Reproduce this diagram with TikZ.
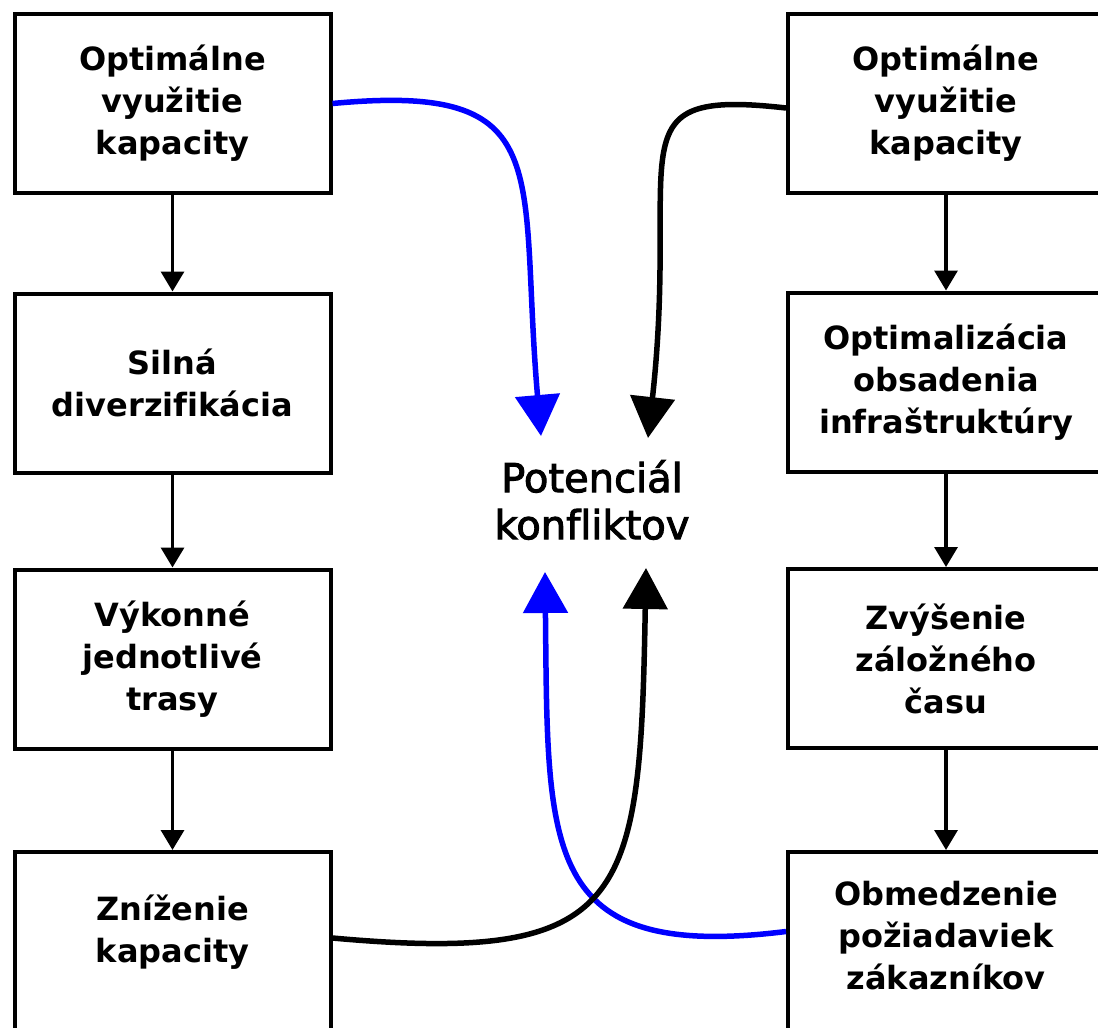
\documentclass[tikz,border=0pt]{standalone}
\usepackage{fontspec}
\setmainfont{DejaVu Sans}[Ligatures=NoCommon]
\newfontfamily\centrefont{DejaVu Sans}[Ligatures=NoCommon, FakeBold=2.5]
\usetikzlibrary{arrows.meta}
\begin{document}
\begin{tikzpicture}[x=1pt,y=-1pt,
  boxtext/.style={align=center, inner sep=0pt, font=\fontsize{32}{42}\selectfont\bfseries},
  box/.style={boxtext, draw=black, line width=4pt, fill=white,
    minimum width=316pt, minimum height=179pt},
  flow/.style={line width=3.3pt, -{Triangle[length=20pt,width=23pt]}},
  link/.style={line width=5.5pt, -{Triangle[length=41pt,width=44pt]}},
]
\useasboundingbox (0,0) rectangle (1098,1028);
\fill[white] (0,0) rectangle (1098,1028);
\clip (0,0) rectangle (1098,1028);

% left column
\node[box] (l1) at (172.5,103.5) {Optimálne\\využitie\\kapacity};
\node[box] (l2) at (172.5,383) {Silná\\diverzifikácia};
\node[box] (l3) at (172.5,659) {Výkonné\\jednotlivé\\trasy};
\node[box, label={[name=l4t, boxtext, yshift=9pt]center:Zníženie\\kapacity}] (l4) at (172.5,941.5) {};

% right column
\node[box] (r1) at (946,103.5) {Optimálne\\využitie\\kapacity};
\node[box] (r2) at (946,382) {Optimalizácia\\obsadenia\\infraštruktúry};
\node[box] (r3) at (946,658.5) {Zvýšenie\\záložného\\času};
\node[box, label={[name=r4t, boxtext, yshift=6pt]center:Obmedzenie\\požiadaviek\\zákazníkov}] (r4) at (946,941.5) {};

% centre label
\node[align=center, inner sep=0pt, font=\fontsize{40}{47}\selectfont\centrefont] (pk) at (592,500) {Potenciál\\konfliktov};

% vertical chains
\draw[flow] (l1) -- (l2);
\draw[flow] (l2) -- (l3);
\draw[flow] (l3) -- (l4);
\draw[flow] (r1) -- (r2);
\draw[flow] (r2) -- (r3);
\draw[flow] (r3) -- (r4);

% arrow tips around the centre label
\coordinate (tA) at (541,436);
\coordinate (tB) at (648,438);
\coordinate (tC) at (545,572);
\coordinate (tD) at (646,568);

% curved links into the centre
\draw[link, blue] (l1.east) .. controls (560,82) and (518,170) .. (tA);
\draw[link, black] ([yshift=-4.5pt]r1.west) .. controls (610,88) and (680,150) .. (tB);
\draw[link, blue] ([yshift=10pt]r4.west) .. controls (540,962) and (548,850) .. (tC);
\draw[link, black] ([yshift=3.5pt]l4.east) .. controls (630,965) and (640,900) .. (tD);
\end{tikzpicture}
\end{document}
